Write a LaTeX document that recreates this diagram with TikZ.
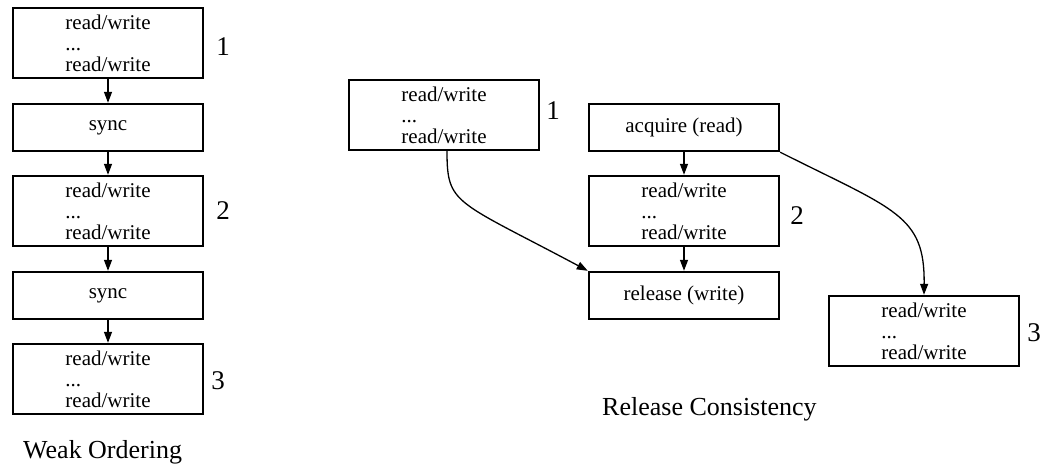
\documentclass[tikz,border=0pt]{standalone}
\usepackage{fontspec}
\setmainfont{Liberation Serif}
\usetikzlibrary{arrows.meta}
\tikzset{
  box/.style={draw, line width=2.4pt, rectangle, inner sep=0pt, minimum width=190pt, align=left, font=\fontsize{21}{21}\selectfont},
  tallbox/.style={box, minimum height=70pt},
  shortbox/.style={box, minimum height=47pt},
  lbl/.style={font=\fontsize{27}{28}\selectfont, inner sep=0pt},
  ttl/.style={font=\fontsize{26}{28}\selectfont, inner sep=0pt, anchor=base west},
  conn/.style={line width=1.3pt, -{Triangle[length=11pt,width=8pt]}}
}
\begin{document}
\begin{tikzpicture}[x=1pt,y=1pt]
\useasboundingbox (0,0) rectangle (1042,-464);
% Weak ordering
\node[tallbox] (w1) at (108,-43) {read/write\\...\\read/write};
\node[shortbox, align=center] (ws1) at (108,-127.5) {sync};
\node[tallbox] (w2) at (108,-211) {read/write\\...\\read/write};
\node[shortbox, align=center] (ws2) at (108,-295.5) {sync};
\node[tallbox] (w3) at (108,-379) {read/write\\...\\read/write};
\node[lbl] (wl1) at (223,-47) {1};
\node[lbl] (wl2) at (223,-211) {2};
\node[lbl] (wl3) at (218,-381) {3};
\node[ttl] (wt) at (23,-458) {Weak Ordering};
\draw[conn] (w1) -- (ws1);
\draw[conn] (ws1) -- (w2);
\draw[conn] (w2) -- (ws2);
\draw[conn] (ws2) -- (w3);
% Release consistency
\node[tallbox] (r1) at (444,-115) {read/write\\...\\read/write};
\node[lbl] (rl1) at (553,-111) {1};
\node[shortbox, align=center] (acq) at (684,-127.5) {acquire (read)};
\node[tallbox] (r2) at (684,-211) {read/write\\...\\read/write};
\node[lbl] (rl2) at (797,-216) {2};
\node[shortbox, align=center] (rel) at (684,-295.5) {release (write)};
\node[tallbox] (r3) at (924,-331) {read/write\\...\\read/write};
\node[lbl] (rl3) at (1034,-333) {3};
\node[ttl] (rt) at (602,-415) {Release Consistency};
\draw[conn] (acq) -- (r2);
\draw[conn] (r2) -- (rel);
\coordinate (r1s) at ([xshift=3pt]r1.south);
\draw[conn] (r1s) .. controls (447,-205) and (455,-200) .. (rel.north west);
\draw[conn] (acq.south east) .. controls (895,-210) and (925,-215) .. (r3.north);
\end{tikzpicture}
\end{document}
